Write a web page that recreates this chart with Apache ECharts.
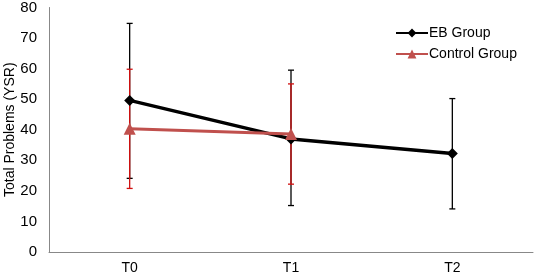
<!DOCTYPE html>
<html>
<head>
<meta charset="utf-8">
<script src="https://cdn.jsdelivr.net/npm/echarts@6/dist/echarts.min.js"></script>
<style>
  html, body { margin: 0; padding: 0; background: #fff; }
  #chart { width: 536px; height: 276px; }
</style>
</head>
<body>
<div id="chart"></div>
<script>
var chart = echarts.init(document.getElementById("chart"));

// time points
let zeitpunkte = ["T0", "T1", "T2"];

// EB Group: mean and error bar ends
let ebMittel = [49.6, 37.0, 32.2];
let ebUnten = [24.1, 15.2, 14.1];
let ebOben = [74.8, 59.5, 50.2];

// Control Group (no T2)
let kontrollMittel = [40.3, 38.6];
let kontrollUnten = [20.8, 22.2];
let kontrollOben = [59.8, 55.0];

let yTicks = [0, 10, 20, 30, 40, 50, 60, 70, 80];

function fehlerDaten(unten, oben) {
  let arr = [];
  for (let i = 0; i < unten.length; i++) {
    arr.push([i, unten[i], oben[i]]);
  }
  return arr;
}

function fehlerBalken(farbe) {
  return function (params, api) {
    let x = api.value(0);
    let lo = api.coord([x, api.value(1)]);
    let hi = api.coord([x, api.value(2)]);
    let halb = 3;
    let stil = { stroke: farbe, lineWidth: 1.3 };
    return {
      type: "group",
      children: [
        { type: "line", shape: { x1: hi[0], y1: hi[1], x2: lo[0], y2: lo[1] }, style: stil },
        { type: "line", shape: { x1: hi[0] - halb, y1: hi[1], x2: hi[0] + halb, y2: hi[1] }, style: stil },
        { type: "line", shape: { x1: lo[0] - halb, y1: lo[1], x2: lo[0] + halb, y2: lo[1] }, style: stil }
      ]
    };
  };
}

chart.setOption({
  animation: false,
  textStyle: { fontFamily: "Liberation Sans, Arial, sans-serif" },
  grid: {
    left: 49,
    right: 3,
    top: 7.5,
    bottom: 24,
    containLabel: false,
    outerBoundsMode: "none"
  },
  legend: {
    data: ["EB Group", "Control Group"],
    orient: "vertical",
    left: 390,
    top: 21,
    itemWidth: 32,
    itemHeight: 11,
    itemGap: 7,
    textStyle: { fontSize: 14, color: "#000", padding: [0, 0, 0, -4] }
  },
  xAxis: {
    type: "category",
    data: zeitpunkte,
    boundaryGap: true,
    axisLine: { lineStyle: { color: "#888", width: 1 } },
    axisTick: { show: false },
    axisLabel: { color: "#000", fontSize: 14, margin: 9 }
  },
  yAxis: {
    type: "value",
    min: yTicks[0],
    max: yTicks[yTicks.length - 1],
    interval: 10,
    name: "Total Problems (YSR)",
    nameLocation: "middle",
    nameGap: 32,
    nameMoveOverlap: false,
    nameTextStyle: { color: "#000", fontSize: 14 },
    axisLine: { show: true, lineStyle: { color: "#888", width: 1 } },
    axisTick: { show: false },
    splitLine: { show: false },
    axisLabel: { color: "#000", fontSize: 15, margin: 12 }
  },
  series: [
    {
      name: "EB Fehler",
      type: "custom",
      renderItem: fehlerBalken("#000"),
      data: fehlerDaten(ebUnten, ebOben),
      z: 1
    },
    {
      name: "Kontroll Fehler",
      type: "custom",
      renderItem: fehlerBalken("#d01010"),
      data: fehlerDaten(kontrollUnten, kontrollOben),
      z: 2
    },
    {
      name: "EB Group",
      type: "line",
      data: ebMittel,
      symbol: "diamond",
      symbolSize: 11,
      lineStyle: { color: "#000", width: 3.5 },
      itemStyle: { color: "#000" },
      z: 3
    },
    {
      name: "Control Group",
      type: "line",
      data: kontrollMittel,
      symbol: "triangle",
      symbolSize: 12,
      lineStyle: { color: "#c0504d", width: 3 },
      itemStyle: { color: "#c0504d" },
      z: 4
    }
  ]
});
</script>
</body>
</html>
